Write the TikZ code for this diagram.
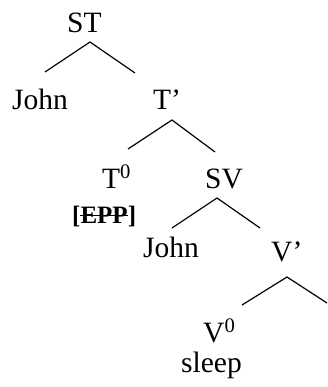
\documentclass[tikz,border=0pt]{standalone}
\usepackage{fontspec}
\setmainfont{Liberation Serif}
\begin{document}
\begin{tikzpicture}[x=1pt,y=-1pt,
  lbl/.style={anchor=base west, inner sep=0pt, font=\fontsize{29.5}{34}\selectfont},
  feat/.style={anchor=base west, inner sep=0pt, font=\fontsize{25}{30}\selectfont\bfseries},
  branch/.style={line width=1.2pt},
  strike/.style={line width=1pt}]
\useasboundingbox (0,0) rectangle (327,387);
% labels
\node[lbl] (ST) at (67,33) {ST};
\node[lbl] (John1) at (12,110) {John};
\node[lbl] (Tbar) at (153,110) {T’};
\node[lbl] (T0) at (102,188) {T\textsuperscript{0}};
\node[feat] (EPP) at (72,223) {[EPP]};
\node[lbl] (SV) at (205,188) {SV};
\node[lbl] (John2) at (143,257) {John};
\node[lbl] (Vbar) at (271,261) {V’};
\node[lbl] (V0) at (203,342) {V\textsuperscript{0}};
\node[lbl] (sleep) at (181,372) {sleep};
% strike-through of EPP
\coordinate (sL) at ([xshift=8pt,yshift=8pt]EPP.base west);
\coordinate (sR) at ([xshift=-8pt,yshift=8pt]EPP.base east);
\draw[strike] (sL) -- (sR);
% branch points
\coordinate (aST) at (90,42);
\coordinate (eJohn1) at (45,72);
\coordinate (eTbar) at (135,73);
\coordinate (aTbar) at (172,120);
\coordinate (eT0) at (128,149);
\coordinate (eSV) at (215,152);
\coordinate (aSV) at (217,198);
\coordinate (eJohn2) at (172,228);
\coordinate (eVbar) at (260,228);
\coordinate (aVbar) at (287,277);
\coordinate (eV0) at (242,305);
\coordinate (eRight) at (327,303);
% branches
\draw[branch] (eJohn1) -- (aST) -- (eTbar);
\draw[branch] (eT0) -- (aTbar) -- (eSV);
\draw[branch] (eJohn2) -- (aSV) -- (eVbar);
\draw[branch] (eV0) -- (aVbar) -- (eRight);
\end{tikzpicture}
\end{document}
